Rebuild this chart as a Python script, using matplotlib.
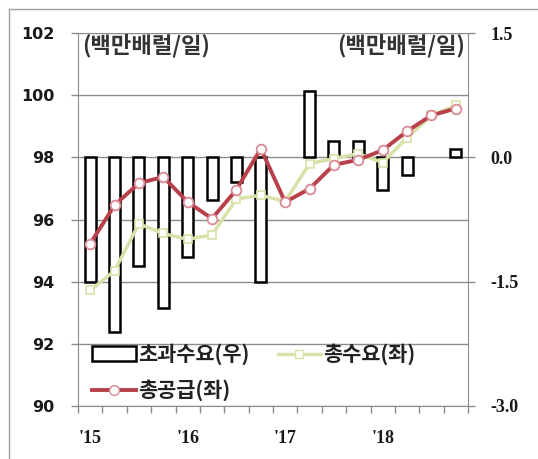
import numpy as np
import matplotlib.pyplot as plt
from matplotlib.lines import Line2D
from matplotlib.patches import Patch
from matplotlib.ticker import FixedLocator, FuncFormatter

plt.rcParams['font.family'] = ['Noto Sans CJK KR', 'DejaVu Sans']

# 분기별 데이터 (2015Q1 ~ 2018Q4)
quarters = ['15Q1', '15Q2', '15Q3', '15Q4', '16Q1', '16Q2', '16Q3', '16Q4',
            '17Q1', '17Q2', '17Q3', '17Q4', '18Q1', '18Q2', '18Q3', '18Q4']
year_labels = ["'15", "'16", "'17", "'18"]

# 총공급, 총수요 (좌축, 백만배럴/일)
supply = [95.22, 96.46, 97.17, 97.37, 96.56, 96.03, 96.96, 98.28,
          96.56, 96.99, 97.76, 97.92, 98.23, 98.84, 99.35, 99.57]
demand = [93.72, 94.35, 95.86, 95.55, 95.36, 95.51, 96.66, 96.78,
          96.58, 97.80, 97.96, 98.12, 97.83, 98.63, 99.35, 99.67]
# 초과수요 (우축)
excess = [-1.50, -2.11, -1.31, -1.82, -1.20, -0.52, -0.30, -1.50,
          0.00, 0.80, 0.20, 0.20, -0.40, -0.21, 0.00, 0.10]

x = np.arange(len(quarters))
grid_col = '#8c8c8c'
text_col = '#1a1a1a'

fig = plt.figure(figsize=(5.38, 4.59), dpi=100)
axb = fig.add_axes([78 / 538, 53 / 459, 390 / 538, 373 / 459])
axl = axb.twinx()

# 막대: 초과수요 (우축), 0인 분기는 테두리 없음
edges = ['black' if v != 0 else 'none' for v in excess]
axb.bar(x, excess, width=0.45, color='white', edgecolor=edges, linewidth=1.8, zorder=3)
axb.set_ylim(-3.0, 1.5)
axb.yaxis.tick_right()
axb.set_yticks([-3.0, -1.5, 0.0, 1.5])
axb.yaxis.set_major_formatter(FuncFormatter(lambda v, p: f'{v:.1f}'))
axb.set_yticks(np.arange(-3.0, 1.6, 0.75), minor=True)
axb.grid(axis='y', which='both', color=grid_col, linewidth=1.0, zorder=0)
axb.set_axisbelow(True)
axb.tick_params(axis='y', which='major', left=False, right=True, labelleft=False,
                labelright=True, length=5, width=1, color=grid_col, pad=11,
                labelcolor=text_col)
axb.tick_params(axis='y', which='minor', left=False, right=False, length=0)
for lab in axb.get_yticklabels():
    lab.set_fontweight('bold')
    lab.set_family(['Liberation Serif', 'DejaVu Serif'])
    lab.set_fontsize(13)

# x축: 분기 경계 눈금, 연도 라벨
axb.set_xlim(-0.5, len(quarters) - 0.5)
axb.xaxis.set_major_locator(FixedLocator(np.arange(-0.5, len(quarters), 1.0)))
axb.xaxis.set_major_formatter(FuncFormatter(lambda v, p: ''))
axb.xaxis.set_minor_locator(FixedLocator(x[::4]))
axb.xaxis.set_minor_formatter(FuncFormatter(lambda v, p: year_labels[int(v) // 4]))
axb.tick_params(axis='x', which='major', length=5, width=1, color=grid_col, direction='out')
axb.tick_params(axis='x', which='minor', length=0, pad=17, labelcolor=text_col)
for lab in axb.get_xticklabels(minor=True):
    lab.set_fontweight('bold')
    lab.set_family(['Liberation Serif', 'DejaVu Serif'])
    lab.set_fontsize(13)

for s in ['left', 'right', 'bottom']:
    axb.spines[s].set_color(grid_col)
axb.spines['top'].set_visible(False)

# 선: 총공급, 총수요 (좌축)
axl.plot(x, demand, color='#d8e2a8', linewidth=2.5, marker='s', markersize=6,
         markerfacecolor='white', markeredgecolor='#d8e2a8', markeredgewidth=1.2)
axl.plot(x, supply, color='#b8404a', linewidth=2.8, marker='o', markersize=7,
         markerfacecolor='white', markeredgecolor='#d98a94', markeredgewidth=1.3)
axl.set_ylim(90, 102)
axl.set_yticks(np.arange(90, 103, 2))
axl.tick_params(axis='y', left=True, right=False, labelleft=True, labelright=False,
                length=5, width=1, color=grid_col, pad=12, labelsize=11.5,
                labelcolor=text_col)
for lab in axl.get_yticklabels():
    lab.set_fontweight('bold')
    lab.set_family(['DejaVu Sans'])
for s in axl.spines.values():
    s.set_visible(False)

# 단위 표시
axl.text(0.01, 0.966, '(백만배럴/일)', transform=axl.transAxes, ha='left', va='center',
         fontsize=16, fontweight='bold', color='#333333')
axl.text(0.992, 0.966, '(백만배럴/일)', transform=axl.transAxes, ha='right', va='center',
         fontsize=16, fontweight='bold', color='#333333')

# 범례
handles = [Patch(facecolor='white', edgecolor='black', linewidth=1.8),
           Line2D([], [], color='#b8404a', linewidth=2.8, marker='o', markersize=7,
                  markerfacecolor='white', markeredgecolor='#d98a94'),
           Line2D([], [], color='#d8e2a8', linewidth=2.5, marker='s', markersize=6,
                  markerfacecolor='white', markeredgecolor='#d8e2a8')]
labels = ['초과수요(우)', '총공급(좌)', '총수요(좌)']
axl.legend(handles, labels, ncol=2, loc='upper left', bbox_to_anchor=(0.015, 0.19),
           frameon=False, prop={'size': 15, 'weight': 'bold'}, handlelength=2.1,
           handletextpad=0.1, columnspacing=1.35, labelspacing=0.7, borderaxespad=0.0,
           labelcolor='#222222')

# 외곽선
fig.add_artist(Line2D([9 / 538, 9 / 538], [0, 1 - 9 / 459], color='#a0a0a0', linewidth=1))
fig.add_artist(Line2D([9 / 538, 1], [1 - 9 / 459, 1 - 9 / 459], color='#a0a0a0', linewidth=1))

fig.savefig('out.png', dpi=100)
